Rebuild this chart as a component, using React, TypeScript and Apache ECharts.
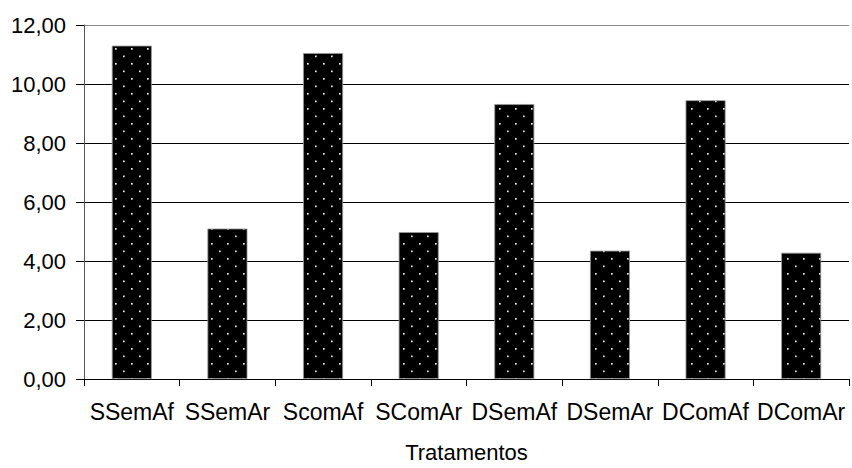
import React, { useEffect, useRef } from "react";
import * as echarts from "echarts";

const categories = ["SSemAf", "SSemAr", "ScomAf", "SComAr", "DSemAf", "DSemAr", "DComAf", "DComAr"];
const values = [11.3, 5.1, 11.05, 4.98, 9.32, 4.35, 9.45, 4.28];
const yTicks = [0, 2, 4, 6, 8, 10, 12];

const FONT = "'Liberation Sans', Arial, sans-serif";

function makePattern(): HTMLCanvasElement {
  const c = document.createElement("canvas");
  c.width = 16;
  c.height = 15;
  const ctx = c.getContext("2d")!;
  ctx.fillStyle = "#000";
  ctx.fillRect(0, 0, 16, 15);
  ctx.fillStyle = "#e8e8e8";
  ctx.fillRect(3, 3, 1.7, 1.7);
  ctx.fillRect(11, 10.5, 1.7, 1.7);
  return c;
}

export default function App() {
  const ref = useRef<HTMLDivElement>(null);
  useEffect(() => {
    if (!ref.current) return;
    const chart = echarts.init(ref.current, undefined, { renderer: "svg" });
    const pattern = makePattern();
    chart.setOption({
      animation: false,
      backgroundColor: "#fff",
      textStyle: { fontFamily: FONT },
      grid: { left: 84, right: 3, top: 25, bottom: 83 },
      xAxis: {
        type: "category",
        data: categories,
        name: "Tratamentos",
        nameLocation: "middle",
        nameGap: 62,
        nameTextStyle: { color: "#000", fontSize: 22, fontFamily: FONT },
        axisLine: { lineStyle: { color: "#000", width: 1 } },
        axisTick: { show: true, alignWithLabel: false, length: 7, lineStyle: { color: "#000" } },
        axisLabel: { color: "#000", fontSize: 23, margin: 21, interval: 0, fontFamily: FONT },
      },
      yAxis: {
        type: "value",
        min: 0,
        max: 12,
        interval: 2,
        axisLine: { show: true, lineStyle: { color: "#555", width: 1 } },
        axisTick: { show: true, length: 8, lineStyle: { color: "#000" } },
        axisLabel: {
          color: "#000",
          fontSize: 22,
          margin: 18,
          fontFamily: FONT,
          formatter: (v: number) => (yTicks.includes(v) ? v.toFixed(2).replace(".", ",") : ""),
        },
        splitLine: {
          show: true,
          lineStyle: { color: ["#000", "#000", "#000", "#000", "#000", "#000", "#888"], width: 1 },
        },
      },
      series: [
        {
          type: "bar",
          data: values,
          barWidth: 40,
          itemStyle: {
            color: { image: pattern, repeat: "repeat" },
            borderColor: "#999",
            borderWidth: 0.8,
          },
        },
      ],
    });
    return () => chart.dispose();
  }, []);
  return <div ref={ref} style={{ position: "fixed", left: 0, top: 0, width: 852, height: 468 }} />;
}
